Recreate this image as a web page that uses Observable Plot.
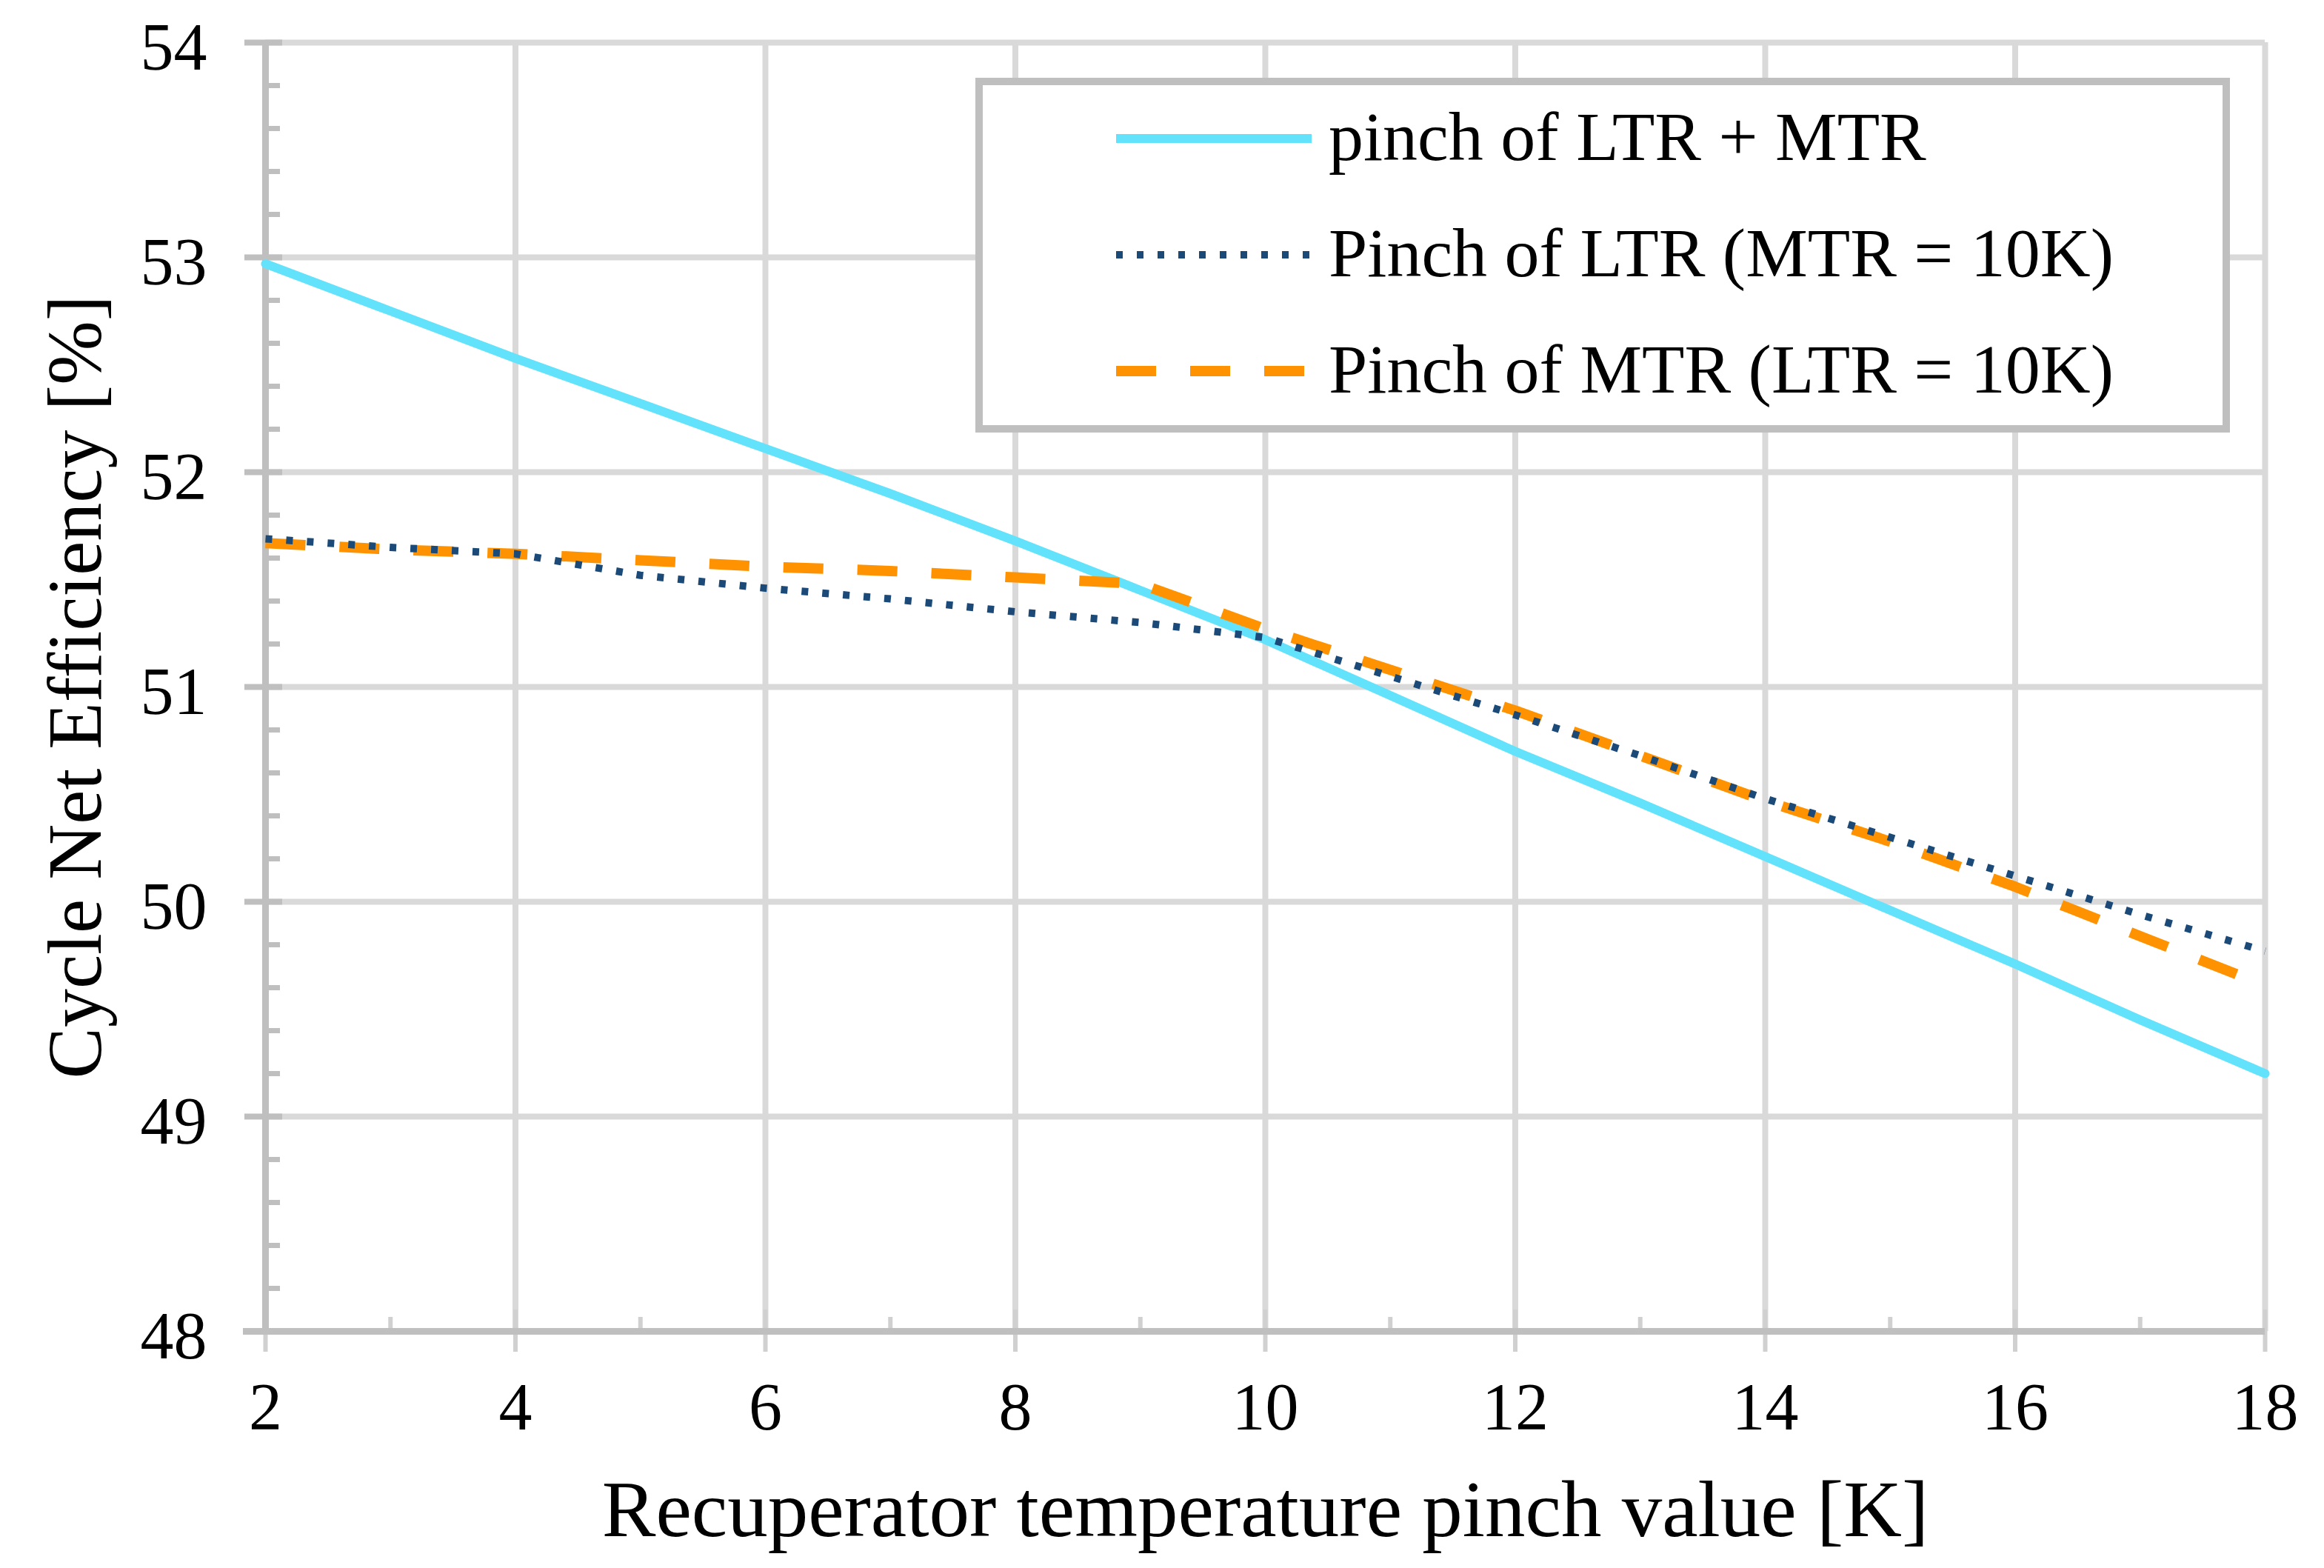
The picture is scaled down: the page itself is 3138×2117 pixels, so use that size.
<!DOCTYPE html>
<html>
<head>
<meta charset="utf-8">
<script src="https://cdn.jsdelivr.net/npm/d3@7"></script>
<script src="https://cdn.jsdelivr.net/npm/@observablehq/plot@0.6"></script>
<style>
html, body { margin: 0; padding: 0; background: #fff; }
#wrap { position: relative; width: 3138px; height: 2117px; }
</style>
</head>
<body>
<div id="wrap"></div>
<script>
// ---------- data ----------
const pinch   = [2, 3, 4, 5, 6, 7, 8, 9, 10, 11, 12, 13, 14, 15, 16, 17, 18];
const ltrMtr  = [52.97, 52.75, 52.53, 52.32, 52.11, 51.90, 51.68, 51.45, 51.22, 50.96, 50.70, 50.46, 50.21, 49.96, 49.71, 49.45, 49.20];
const ltrOnly = [51.69, 51.65, 51.62, 51.52, 51.46, 51.41, 51.35, 51.30, 51.23, 51.05, 50.87, 50.68, 50.48, 50.30, 50.12, 49.94, 49.77];
const mtrOnly = [51.67, 51.64, 51.62, 51.59, 51.56, 51.54, 51.51, 51.48, 51.27, 51.08, 50.89, 50.68, 50.47, 50.28, 50.07, 49.84, 49.61];
const seriesNames = ["pinch of LTR + MTR", "Pinch of LTR (MTR = 10K)", "Pinch of MTR (LTR = 10K)"];
const seriesColors = ["#62e2fb", "#1b4a78", "#ff9200"];
const xTicks = [2, 4, 6, 8, 10, 12, 14, 16, 18];
const xMinor = [3, 5, 7, 9, 11, 13, 15, 17];
const yTicks = [48, 49, 50, 51, 52, 53, 54];
const yMinor = [48.2, 48.4, 48.6, 48.8, 49.2, 49.4, 49.6, 49.8, 50.2, 50.4, 50.6, 50.8,
                51.2, 51.4, 51.6, 51.8, 52.2, 52.4, 52.6, 52.8, 53.2, 53.4, 53.6, 53.8];
const xTitle = "Recuperator temperature pinch value [K]";
const yTitle = "Cycle Net Efficiency [%]";

// ---------- chart ----------
const font = '"Liberation Serif", "Times New Roman", serif';
const gridColor = "#d9d9d9";
const axisColor = "#bfbfbf";

const chart = Plot.plot({
  width: 3138,
  height: 2117,
  marginLeft: 358,
  marginRight: 80,
  marginTop: 57,
  marginBottom: 320,
  x: { domain: [2, 18] },
  y: { domain: [48, 54] },
  style: { fontFamily: font, color: "#000", background: "#fff" },
  marks: [
    // gridlines
    Plot.ruleX(xTicks.filter(d => d > 2), { stroke: gridColor, strokeWidth: 8 }),
    Plot.ruleY(yTicks.filter(d => d > 48), { x1: () => 2, x2: () => 18, stroke: gridColor, strokeWidth: 8 }),
    // y axis: major (crossing) and minor (inside) ticks
    Plot.ruleY(yTicks.filter(d => d > 48), { x1: () => 2, x2: () => 2, insetLeft: -28, insetRight: -23, stroke: axisColor, strokeWidth: 8 }),
    Plot.ruleY(yMinor, { x1: () => 2, x2: () => 2, insetLeft: 0, insetRight: -20, stroke: axisColor, strokeWidth: 7 }),
    // x axis ticks
    Plot.ruleX(xTicks, { y1: () => 48, y2: () => 48, insetTop: -29, insetBottom: -28, stroke: "#d0d0d0", strokeWidth: 6 }),
    Plot.ruleX(xMinor, { y1: () => 48, y2: () => 48, insetTop: -19, insetBottom: 0, stroke: "#d0d0d0", strokeWidth: 6 }),
    // axis lines
    Plot.ruleX([2], { stroke: axisColor, strokeWidth: 9 }),
    Plot.ruleY([48], { x1: () => 2, x2: () => 18, insetLeft: -30, stroke: axisColor, strokeWidth: 9 }),
    // tick labels
    Plot.axisY({ ticks: yTicks, tickSize: 0, tickPadding: 79, fontSize: 90, dy: 8, label: null, tickFormat: d => String(d) }),
    Plot.axisX({ ticks: xTicks, tickSize: 0, tickPadding: 69, fontSize: 90, label: null, tickFormat: d => String(d) }),
    // axis titles
    Plot.text([xTitle], { text: d => d, frameAnchor: "bottom", textAnchor: "middle", dy: 242, fontSize: 109, lineAnchor: "middle" }),
    Plot.text([yTitle], { text: d => d, frameAnchor: "left", textAnchor: "middle", rotate: -90, dx: -256, fontSize: 104, lineAnchor: "middle" }),
    // series
    Plot.line(pinch, { x: d => d, y: (d, i) => ltrMtr[i], stroke: seriesColors[0], strokeWidth: 12 }),
    Plot.line(pinch, { x: d => d, y: (d, i) => mtrOnly[i], stroke: seriesColors[2], strokeWidth: 14, strokeDasharray: "54 46", strokeLinecap: "butt" }),
    Plot.line(pinch, { x: d => d, y: (d, i) => ltrOnly[i], stroke: seriesColors[1], strokeWidth: 10, strokeDasharray: "9 19", strokeLinecap: "butt" })
  ]
});

document.getElementById("wrap").appendChild(chart);

// ---------- legend ----------
const svg = d3.select(chart);
const lg = svg.append("g").attr("font-family", font).attr("text-anchor", "start");
lg.append("rect")
  .attr("x", 1322).attr("y", 110).attr("width", 1684).attr("height", 469)
  .attr("fill", "#fff").attr("stroke", axisColor).attr("stroke-width", 10);
const rowY = [187, 344, 501];
const styles = [
  { w: 12, dash: null, cap: "butt" },
  { w: 10, dash: "9 19", cap: "butt" },
  { w: 14, dash: "54 46", cap: "butt" }
];
seriesNames.forEach((name, i) => {
  const l = lg.append("line")
    .attr("x1", 1507).attr("x2", 1771).attr("y1", rowY[i]).attr("y2", rowY[i])
    .attr("stroke", seriesColors[i]).attr("stroke-width", styles[i].w)
    .attr("stroke-linecap", styles[i].cap);
  if (styles[i].dash) l.attr("stroke-dasharray", styles[i].dash);
  lg.append("text")
    .attr("x", 1794).attr("y", rowY[i] + 29)
    .attr("text-anchor", "start")
    .attr("font-size", 94).attr("fill", "#000")
    .text(name);
});
</script>
</body>
</html>
